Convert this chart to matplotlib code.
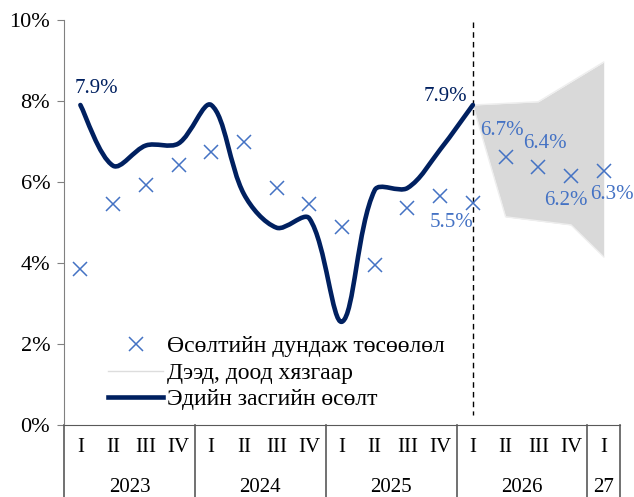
import numpy as np
import matplotlib.pyplot as plt
import matplotlib as mpl
from matplotlib.path import Path
from matplotlib.patches import PathPatch
from matplotlib.lines import Line2D
import matplotlib.transforms as mtransforms

# %%
# Data
years = ['2023', '2024', '2025', '2026', '27']
year_len = [4, 4, 4, 4, 1]
quarters = ['I', 'II', 'III', 'IV'] * 4 + ['I']

# Actual growth, 2023 I .. 2026 I
growth = [7.9, 6.4, 6.9, 6.95, 7.9, 5.7, 4.87, 5.1, 2.55, 5.8, 5.85, 6.8, 7.9]
# Average projection, 2023 I .. 2027 I
proj = [3.85, 5.45, 5.93, 6.42, 6.74, 6.99, 5.85, 5.46, 4.89, 3.95, 5.36, 5.65,
        5.48, 6.62, 6.37, 6.15, 6.27]
# Upper / lower bounds, 2026 I .. 2027 I
upper = [7.9, 7.94, 7.98, 8.47, 8.96]
lower = [7.9, 5.14, 5.04, 4.94, 4.15]

proj_labels = {12: '5.5%', 13: '6.7%', 14: '6.4%', 15: '6.2%', 16: '6.3%'}

# %%
plt.rc('font', family='Liberation Serif')
navy = '#002060'
blue = '#4472C4'
fsize = 15

fig = plt.figure(figsize=(6.34, 4.97), dpi=100)
ax = fig.add_axes([0.101, 0.1449, 0.877, 0.815])

n = len(quarters)
x = np.arange(n)

# band
xb = x[12:]
ax.fill_between(xb, lower, upper, color='#d9d9d9', lw=0, zorder=1)
ax.plot(xb, upper, color='#eeeeee', lw=1, zorder=1)
ax.plot(xb, lower, color='#eeeeee', lw=1, zorder=1)

# smoothed growth line (bezier through the points, handles weighted by
# segment length in pixel space, roughly like Excel smoothing)
pts = np.column_stack([x[:len(growth)], growth]).astype(float)
scale = np.array([32.7, 40.5])


def dist(a, b):
    return np.hypot(*((b - a) * scale))


verts = [pts[0]]
codes = [Path.MOVETO]
m = len(pts)
for i in range(m - 1):
    p0 = pts[max(i - 1, 0)]
    p1 = pts[i]
    p2 = pts[i + 1]
    p3 = pts[min(i + 2, m - 1)]
    t1 = p2 - p0
    t2 = p3 - p1
    d01 = dist(p0, p1)
    d12 = dist(p1, p2)
    d23 = dist(p2, p3)
    k1 = d12 / (d01 + d12) if i > 0 else 0.5
    k2 = d12 / (d12 + d23) if i < m - 2 else 0.5
    c1 = p1 + t1 * k1 / 3.0
    c2 = p2 - t2 * k2 / 3.0
    verts += [c1, c2, p2]
    codes += [Path.CURVE4] * 3
ax.add_patch(PathPatch(Path(verts, codes), fill=False, ec=navy, lw=3.3,
                       capstyle='round', joinstyle='round', zorder=3))

ax.plot(x, proj, linestyle='none', marker='x', ms=10, mew=1.1, color=blue,
        zorder=4)

# forecast start
ax.plot([12, 12], [9.95, 0.25], color='black', lw=1, ls=(0, (4, 3)), zorder=2)

# labels
ax.text(0.5, 8.3, '7.9%', color=navy, fontsize=fsize, ha='center', va='center')
ax.text(11.15, 8.1, '7.9%', color=navy, fontsize=fsize, ha='center', va='center')
lab_pos = {12: (11.35, 5.0), 13: (12.9, 7.28), 14: (14.2, 6.95),
           15: (14.85, 5.55), 16: (16.25, 5.7)}
for k, s in proj_labels.items():
    ax.text(lab_pos[k][0], lab_pos[k][1], s, color=blue, fontsize=fsize,
            ha='center', va='center')

# axes
ax.set_xlim(-0.5, n - 0.5)
ax.set_ylim(0, 10)
ax.set_yticks(np.arange(0, 11, 2))
ax.set_yticklabels(['%d%%' % v for v in range(0, 11, 2)], fontsize=16)
ax.tick_params(axis='y', length=5, color='#808080', pad=5)
ax.set_xticks([])
for s in ['top', 'right']:
    ax.spines[s].set_visible(False)
ax.spines['left'].set_color('#808080')
ax.spines['bottom'].set_color('#595959')

# category table below the axis
tr = mtransforms.blended_transform_factory(ax.transData, ax.transAxes)
for i, q in enumerate(quarters):
    ax.text(i, -0.055, q, transform=tr, ha='center', va='center', fontsize=fsize)
edges = np.concatenate([[0], np.cumsum(year_len)]) - 0.5
for j, yr in enumerate(years):
    ax.text((edges[j] + edges[j + 1]) / 2, -0.155, yr, transform=tr,
            ha='center', va='center', fontsize=fsize)
for e in edges:
    ax.plot([e, e], [0, -0.2], transform=tr, color='#595959', lw=1.2,
            clip_on=False)

# legend
handles = [Line2D([], [], ls='none', marker='x', ms=10, mew=1.1, color=blue),
           Line2D([], [], color='#dddddd', lw=1),
           Line2D([], [], color=navy, lw=3.3)]
labels = ['Өсөлтийн дундаж төсөөлөл', 'Дээд, доод хязгаар',
          'Эдийн засгийн өсөлт']
ax.legend(handles, labels, loc='lower left', bbox_to_anchor=(0.062, 0.013),
          frameon=False, fontsize=17, handlelength=2.35, handletextpad=0.15,
          labelspacing=0.21, borderaxespad=0)

plt.savefig('out.png', dpi=100)
